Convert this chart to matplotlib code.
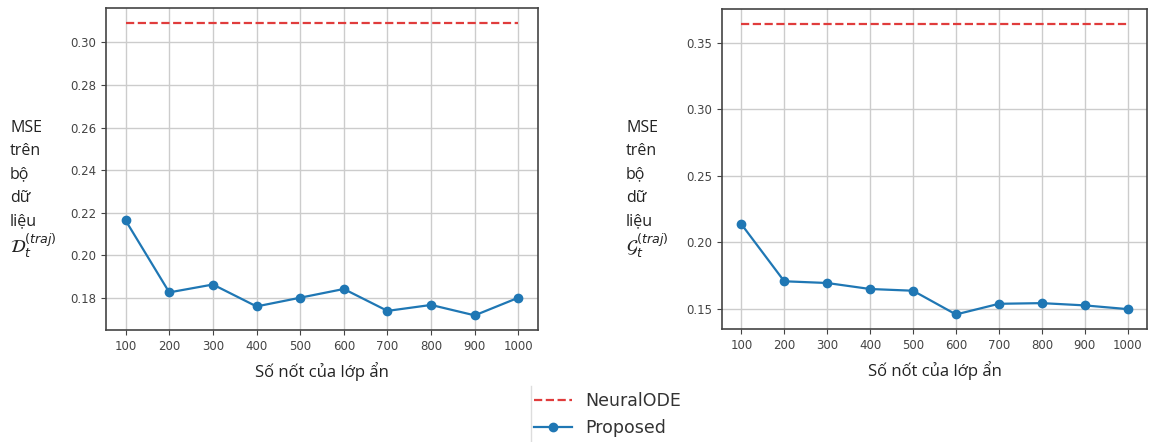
import matplotlib.pyplot as plt
from matplotlib.lines import Line2D

# Data
nodes = [100, 200, 300, 400, 500, 600, 700, 800, 900, 1000]
proposed_d = [0.2163, 0.1825, 0.1862, 0.1759, 0.1800, 0.1841, 0.1738, 0.1766, 0.1717, 0.1800]
neuralode_d = 0.3093
proposed_g = [0.2138, 0.1709, 0.1696, 0.1651, 0.1638, 0.1460, 0.1540, 0.1545, 0.1528, 0.1500]
neuralode_g = 0.3643

xlabel = 'Số nốt của lớp ẩn'
ylabel_text = 'MSE\ntrên\nbộ\ndữ\nliệu'
ylabel_d = '$\\mathcal{D}_t^{(traj)}$'
ylabel_g = '$\\mathcal{G}_t^{(traj)}$'

fig = plt.figure(figsize=(11.53, 4.42), dpi=100)
W, H = 1153, 442


def make_axes(left, top, right, bottom):
    return fig.add_axes([left / W, 1 - bottom / H, (right - left) / W, (bottom - top) / H])


ax1 = make_axes(106, 8, 538, 330)
ax2 = make_axes(722, 9, 1147, 329)

for ax, vals, ref, sym, lx in [(ax1, proposed_d, neuralode_d, ylabel_d, 10),
                                (ax2, proposed_g, neuralode_g, ylabel_g, 626)]:
    ax.plot(nodes, [ref] * len(nodes), '--', color='#e03c3c', lw=1.6, label='NeuralODE')
    ax.plot(nodes, vals, '-o', color='#1f77b4', lw=1.6, ms=6, label='Proposed')
    ax.set_xticks(nodes)
    ax.grid(True, color='#cccccc', lw=1)
    ax.tick_params(labelsize=8.5, labelcolor='#444444', color='#444444')
    for s in ax.spines.values():
        s.set_color('#444444')
        s.set_linewidth(1.2)
    ax.set_xlabel(xlabel, family='Open Sans', fontsize=12, color='#222222', labelpad=7)
    fig.text(lx / W, 1 - 120 / H, ylabel_text, family='Open Sans', fontsize=11.5, color='#222222',
             ha='left', va='top', linespacing=1.6)
    fig.text(lx / W, 1 - 253 / H, sym, fontsize=13, color='#222222', ha='left', va='baseline')

ax1.set_yticks([0.18, 0.20, 0.22, 0.24, 0.26, 0.28, 0.30])
ax2.set_yticks([0.15, 0.20, 0.25, 0.30, 0.35])

handles, labels = ax1.get_legend_handles_labels()
fig.legend(handles, labels, loc='upper left', bbox_to_anchor=(518 / W, 1 - 376 / H),
           frameon=False, fontsize=12.5, labelcolor='#333333', handlelength=2.2,
           labelspacing=0.55)
fig.add_artist(Line2D([531 / W, 531 / W], [0, 1 - 386 / H], color='#dddddd', lw=1))

fig.savefig('out.png', dpi=100)
